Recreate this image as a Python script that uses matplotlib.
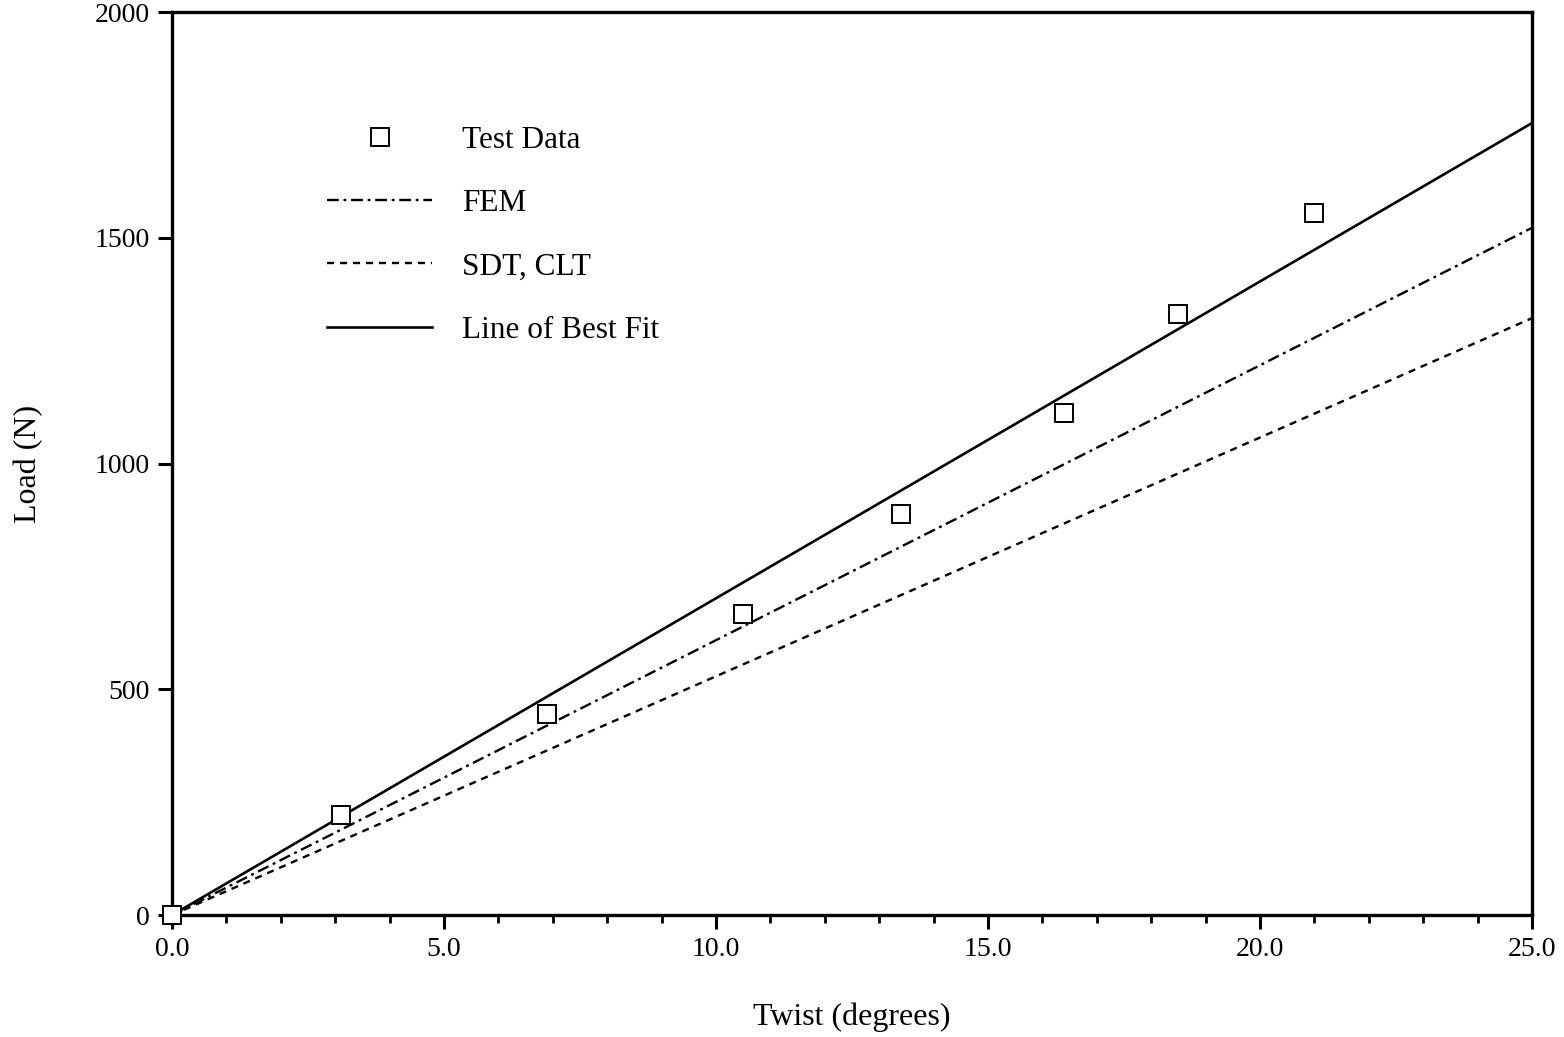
import matplotlib.pyplot as plt
from matplotlib.ticker import MultipleLocator

# measured twist vs load
twist = [0.0, 3.1, 6.9, 10.5, 13.4, 16.4, 18.5, 21.0]
load = [0, 221, 445, 667, 888, 1112, 1331, 1555]

# straight-line predictions, given as (twist, load) end points
line_twist = [0.0, 25.0]
fem_load = [0, 1522]
sdt_load = [0, 1322]
fit_load = [0, 1754]

plt.rcParams['font.family'] = ['Liberation Serif', 'DejaVu Serif']

fig = plt.figure(figsize=(15.64, 10.37), dpi=100)
ax = fig.add_axes([0.110, 0.1176, 0.8695, 0.8708])

ax.plot(line_twist, fem_load, color='black', lw=1.7, ls=(0, (5, 2, 1.2, 2)), label='FEM')
ax.plot(line_twist, sdt_load, color='black', lw=1.7, ls=(0, (3, 2.5)), label='SDT, CLT')
ax.plot(line_twist, fit_load, color='black', lw=1.9, ls='-', label='Line of Best Fit')
ax.plot(twist, load, ls='none', marker='s', ms=12.5, mfc='white', mec='black', mew=1.4,
        label='Test Data', clip_on=False, zorder=5)

ax.set_xlim(0, 25)
ax.set_ylim(0, 2000)
ax.xaxis.set_major_locator(MultipleLocator(5))
ax.xaxis.set_minor_locator(MultipleLocator(1))
ax.yaxis.set_major_locator(MultipleLocator(500))
ax.xaxis.set_major_formatter(lambda v, p: f'{v:.1f}')
ax.yaxis.set_major_formatter(lambda v, p: f'{v:.0f}')

ax.tick_params(axis='both', which='major', direction='out', length=10, width=2.2,
               labelsize=20, pad=6)
ax.tick_params(axis='x', which='minor', direction='out', length=6, width=2)
for side in ax.spines.values():
    side.set_linewidth(2.4)

ax.set_xlabel('Twist (degrees)', fontsize=23, labelpad=29)
ax.set_ylabel('Load (N)', fontsize=23, labelpad=37)

handles, labels = ax.get_legend_handles_labels()
order = [3, 0, 1, 2]
ax.legend([handles[i] for i in order], [labels[i] for i in order],
          loc='upper left', bbox_to_anchor=(0.105, 0.888), frameon=False,
          fontsize=22.5, handlelength=3.35, handletextpad=0.95, labelspacing=1.1,
          borderaxespad=0)

fig.savefig('out.png', dpi=100)
